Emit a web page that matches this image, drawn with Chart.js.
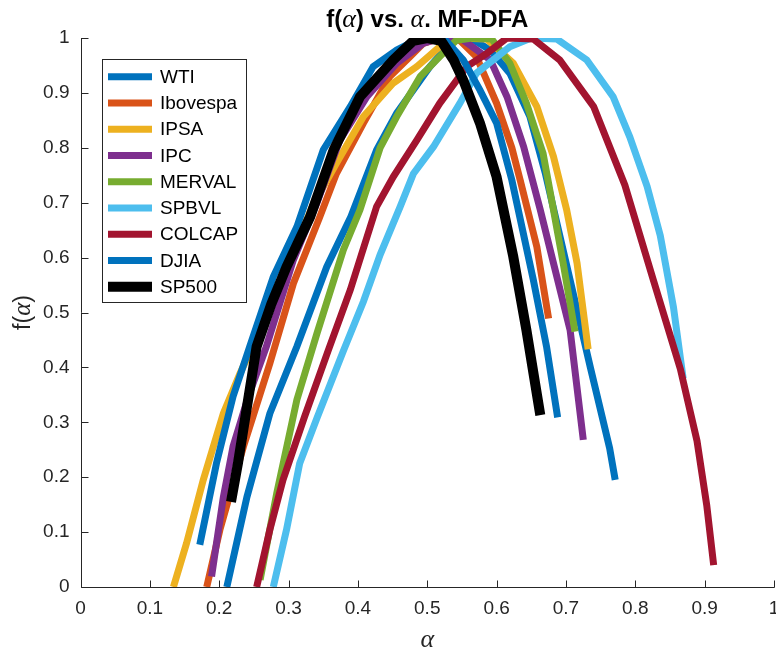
<!DOCTYPE html>
<html><head><meta charset="utf-8">
<script src="https://cdn.jsdelivr.net/npm/chart.js@4.4.0/dist/chart.umd.min.js"></script>
<style>html,body{margin:0;padding:0;background:#fff;}</style>
</head><body>
<canvas id="c" width="776" height="655"></canvas>
<script>
// ---- data ----
const seriesNames = ['WTI','Ibovespa','IPSA','IPC','MERVAL','SPBVL','COLCAP','DJIA','SP500'];
const seriesColors = ['#0072BD','#D95319','#EDB120','#7E2F8E','#77AC30','#4DBEEE','#A2142F','#0072BD','#000000'];

const wtiAlpha = [0.211,0.240,0.273,0.312,0.355,0.390,0.427,0.456,0.504,0.537,0.562,0.591,0.619,0.648,0.670,0.706,0.735,0.763,0.771];
const wtiF     = [0.000,0.164,0.316,0.438,0.583,0.675,0.796,0.863,0.948,0.995,1.000,0.978,0.936,0.857,0.755,0.559,0.401,0.253,0.195];

const ibovAlpha = [0.182,0.201,0.235,0.273,0.307,0.345,0.369,0.408,0.446,0.475,0.494,0.520,0.545,0.571,0.600,0.622,0.634,0.658,0.675];
const ibovF     = [0.000,0.104,0.256,0.407,0.553,0.674,0.753,0.845,0.930,0.966,0.990,1.000,0.998,0.966,0.881,0.800,0.741,0.620,0.489];

const ipsaAlpha = [0.134,0.153,0.177,0.206,0.230,0.259,0.300,0.335,0.369,0.408,0.451,0.485,0.518,0.545,0.586,0.624,0.658,0.682,0.701,0.716,0.732];
const ipsaF     = [0.000,0.080,0.195,0.316,0.389,0.468,0.590,0.695,0.772,0.857,0.918,0.948,0.984,1.000,0.998,0.954,0.875,0.784,0.687,0.590,0.433];

const ipcAlpha = [0.189,0.206,0.220,0.242,0.268,0.307,0.341,0.374,0.413,0.456,0.494,0.520,0.550,0.591,0.615,0.639,0.663,0.682,0.706,0.725];
const ipcF     = [0.019,0.164,0.256,0.347,0.438,0.596,0.700,0.814,0.893,0.954,0.990,1.000,0.998,0.960,0.893,0.802,0.687,0.590,0.468,0.268];

const mervalAlpha = [0.259,0.283,0.312,0.341,0.379,0.403,0.432,0.456,0.490,0.518,0.542,0.565,0.593,0.619,0.643,0.667,0.682,0.696,0.713];
const mervalF     = [0.013,0.171,0.341,0.462,0.614,0.687,0.800,0.857,0.930,0.966,0.996,1.000,0.998,0.954,0.881,0.790,0.687,0.590,0.465];

const spbvlAlpha = [0.278,0.297,0.316,0.341,0.379,0.408,0.432,0.461,0.480,0.509,0.547,0.571,0.619,0.650,0.687,0.730,0.768,0.792,0.817,0.836,0.855,0.869];
const spbvlF     = [0.000,0.104,0.225,0.308,0.430,0.520,0.605,0.693,0.753,0.802,0.881,0.936,0.984,1.000,0.998,0.960,0.893,0.820,0.730,0.640,0.510,0.380];

const colcapAlpha = [0.254,0.273,0.292,0.323,0.357,0.389,0.427,0.451,0.485,0.518,0.557,0.586,0.615,0.653,0.691,0.740,0.785,0.826,0.865,0.889,0.903,0.913];
const colcapF     = [0.000,0.104,0.195,0.310,0.430,0.541,0.693,0.747,0.814,0.881,0.948,0.972,1.000,0.998,0.960,0.875,0.732,0.559,0.397,0.266,0.149,0.040];

const djiaAlpha = [0.172,0.196,0.220,0.244,0.278,0.312,0.350,0.389,0.422,0.456,0.490,0.525,0.552,0.576,0.600,0.622,0.653,0.672,0.688];
const djiaF     = [0.077,0.225,0.347,0.438,0.565,0.656,0.796,0.875,0.948,0.978,1.000,0.998,0.960,0.905,0.845,0.741,0.559,0.438,0.309];

const sp500Alpha = [0.217,0.227,0.240,0.254,0.275,0.297,0.331,0.365,0.403,0.451,0.480,0.500,0.520,0.538,0.552,0.576,0.600,0.624,0.643,0.663];
const sp500F     = [0.155,0.225,0.328,0.438,0.515,0.583,0.674,0.796,0.893,0.960,0.995,1.000,0.995,0.960,0.923,0.845,0.747,0.602,0.468,0.313];

const seriesAlpha = [wtiAlpha, ibovAlpha, ipsaAlpha, ipcAlpha, mervalAlpha, spbvlAlpha, colcapAlpha, djiaAlpha, sp500Alpha];
const seriesF     = [wtiF, ibovF, ipsaF, ipcF, mervalF, spbvlF, colcapF, djiaF, sp500F];
const seriesWidths = [7,7,7,7,7,7,7,7,10];

const xTicks = [0,0.1,0.2,0.3,0.4,0.5,0.6,0.7,0.8,0.9,1];
const yTicks = [0,0.1,0.2,0.3,0.4,0.5,0.6,0.7,0.8,0.9,1];

// ---- styling ----
const AX = '#262626';
const SANS = "'Liberation Sans', Arial, Helvetica, sans-serif";
const SERIF = "'Liberation Serif', 'DejaVu Serif', serif";

const datasets = seriesNames.map((name, i) => ({
  label: name,
  data: seriesAlpha[i].map((a, k) => ({x: a, y: seriesF[i][k]})),
  borderColor: seriesColors[i],
  backgroundColor: seriesColors[i],
  borderWidth: seriesWidths[i],
  borderCapStyle: 'butt',
  borderJoinStyle: 'miter',
  pointRadius: 0,
  pointHoverRadius: 0,
  tension: 0,
  fill: false,
  order: seriesNames.length - 1 - i
}));

function drawPieces(ctx, pieces, cx, baseY) {
  let total = 0;
  pieces.forEach(p => { ctx.font = p.f; p.w = ctx.measureText(p.t).width; total += p.w; });
  let x = cx - total / 2;
  ctx.textAlign = 'left';
  ctx.textBaseline = 'alphabetic';
  pieces.forEach(p => { ctx.font = p.f; ctx.fillText(p.t, x, baseY); x += p.w; });
}

const PLOT = {left: 80.5, right: 774, top: 38, bottom: 587};

const matlabAxes = {
  id: 'matlabAxes',
  beforeDatasetsDraw(chart) {
    const {ctx, chartArea: ca, scales: {x, y}} = chart;
    ctx.save();
    ctx.strokeStyle = AX;
    ctx.lineWidth = 1;
    ctx.beginPath();
    const L = Math.round(ca.left) + 0.5, B = Math.round(ca.bottom) + 0.5;
    ctx.moveTo(L, Math.round(ca.top));
    ctx.lineTo(L, B);
    ctx.lineTo(Math.round(ca.right) + 0.5, B);
    xTicks.forEach(v => {
      const px = Math.round(x.getPixelForValue(v)) + 0.5;
      ctx.moveTo(px, B); ctx.lineTo(px, B - 7);
    });
    yTicks.forEach(v => {
      const py = Math.round(y.getPixelForValue(v)) + 0.5;
      ctx.moveTo(L, py); ctx.lineTo(L + 7, py);
    });
    ctx.stroke();
    ctx.restore();
  },
  afterDraw(chart) {
    const {ctx, chartArea: ca} = chart;
    ctx.save();
    ctx.fillStyle = '#000';
    // title
    const cx = (ca.left + ca.right) / 2;
    drawPieces(ctx, [
      {t: 'f(', f: 'bold 24px ' + SANS},
      {t: 'α', f: 'italic 26px ' + SERIF},
      {t: ') vs. ', f: 'bold 24px ' + SANS},
      {t: 'α', f: 'italic 26px ' + SERIF},
      {t: '. MF-DFA', f: 'bold 24px ' + SANS}
    ], cx, 27);
    // x label
    ctx.fillStyle = AX;
    drawPieces(ctx, [{t: 'α', f: 'italic 26px ' + SERIF}], cx, 647);
    // y label
    ctx.save();
    ctx.translate(30, (ca.top + ca.bottom) / 2);
    ctx.rotate(-Math.PI / 2);
    drawPieces(ctx, [
      {t: 'f(', f: '23px ' + SANS},
      {t: 'α', f: 'italic 25px ' + SERIF},
      {t: ')', f: '23px ' + SANS}
    ], 0, 0);
    ctx.restore();
    // legend
    const bx = 102.5, by = 59.5, bw = 144, bh = 243;
    ctx.fillStyle = '#fff';
    ctx.fillRect(bx, by, bw, bh);
    ctx.strokeStyle = AX;
    ctx.lineWidth = 1;
    ctx.strokeRect(bx, by, bw, bh);
    chart.data.datasets.forEach((ds, i) => {
      const ry = 76.7 + i * 26.25;
      ctx.beginPath();
      ctx.strokeStyle = ds.borderColor;
      ctx.lineWidth = ds.borderWidth;
      ctx.lineCap = 'butt';
      ctx.moveTo(108, ry); ctx.lineTo(152, ry);
      ctx.stroke();
      ctx.fillStyle = '#000';
      ctx.font = '19px ' + SANS;
      ctx.textAlign = 'left';
      ctx.textBaseline = 'middle';
      ctx.fillText(ds.label, 160, ry + 1);
    });
    ctx.restore();
  }
};

const tickFmt = v => String(Math.round(v * 10) / 10);

new Chart(document.getElementById('c'), {
  type: 'line',
  data: {datasets},
  options: {
    responsive: false,
    animation: false,
    events: [],
    layout: {padding: {top: PLOT.top, right: 776 - PLOT.right, left: 0, bottom: 0}, autoPadding: false},
    plugins: {legend: {display: false}, tooltip: {enabled: false}, title: {display: false}},
    scales: {
      x: {
        type: 'linear', min: 0, max: 1,
        afterBuildTicks: s => { s.ticks = xTicks.map(v => ({value: v})); },
        afterFit: s => { s.height = 655 - PLOT.bottom; s.paddingLeft = 0; s.paddingRight = 0; },
        ticks: {font: {family: SANS, size: 19}, color: AX, padding: 10, maxRotation: 0, autoSkip: false, callback: tickFmt},
        grid: {display: false, drawTicks: false},
        border: {display: false}
      },
      y: {
        type: 'linear', min: 0, max: 1,
        afterBuildTicks: s => { s.ticks = yTicks.map(v => ({value: v})); },
        afterFit: s => { s.width = PLOT.left; s.paddingTop = 0; s.paddingBottom = 0; },
        ticks: {font: {family: SANS, size: 19}, color: AX, padding: 11, autoSkip: false, callback: tickFmt},
        grid: {display: false, drawTicks: false},
        border: {display: false}
      }
    }
  },
  plugins: [matlabAxes]
});
</script>
</body></html>
